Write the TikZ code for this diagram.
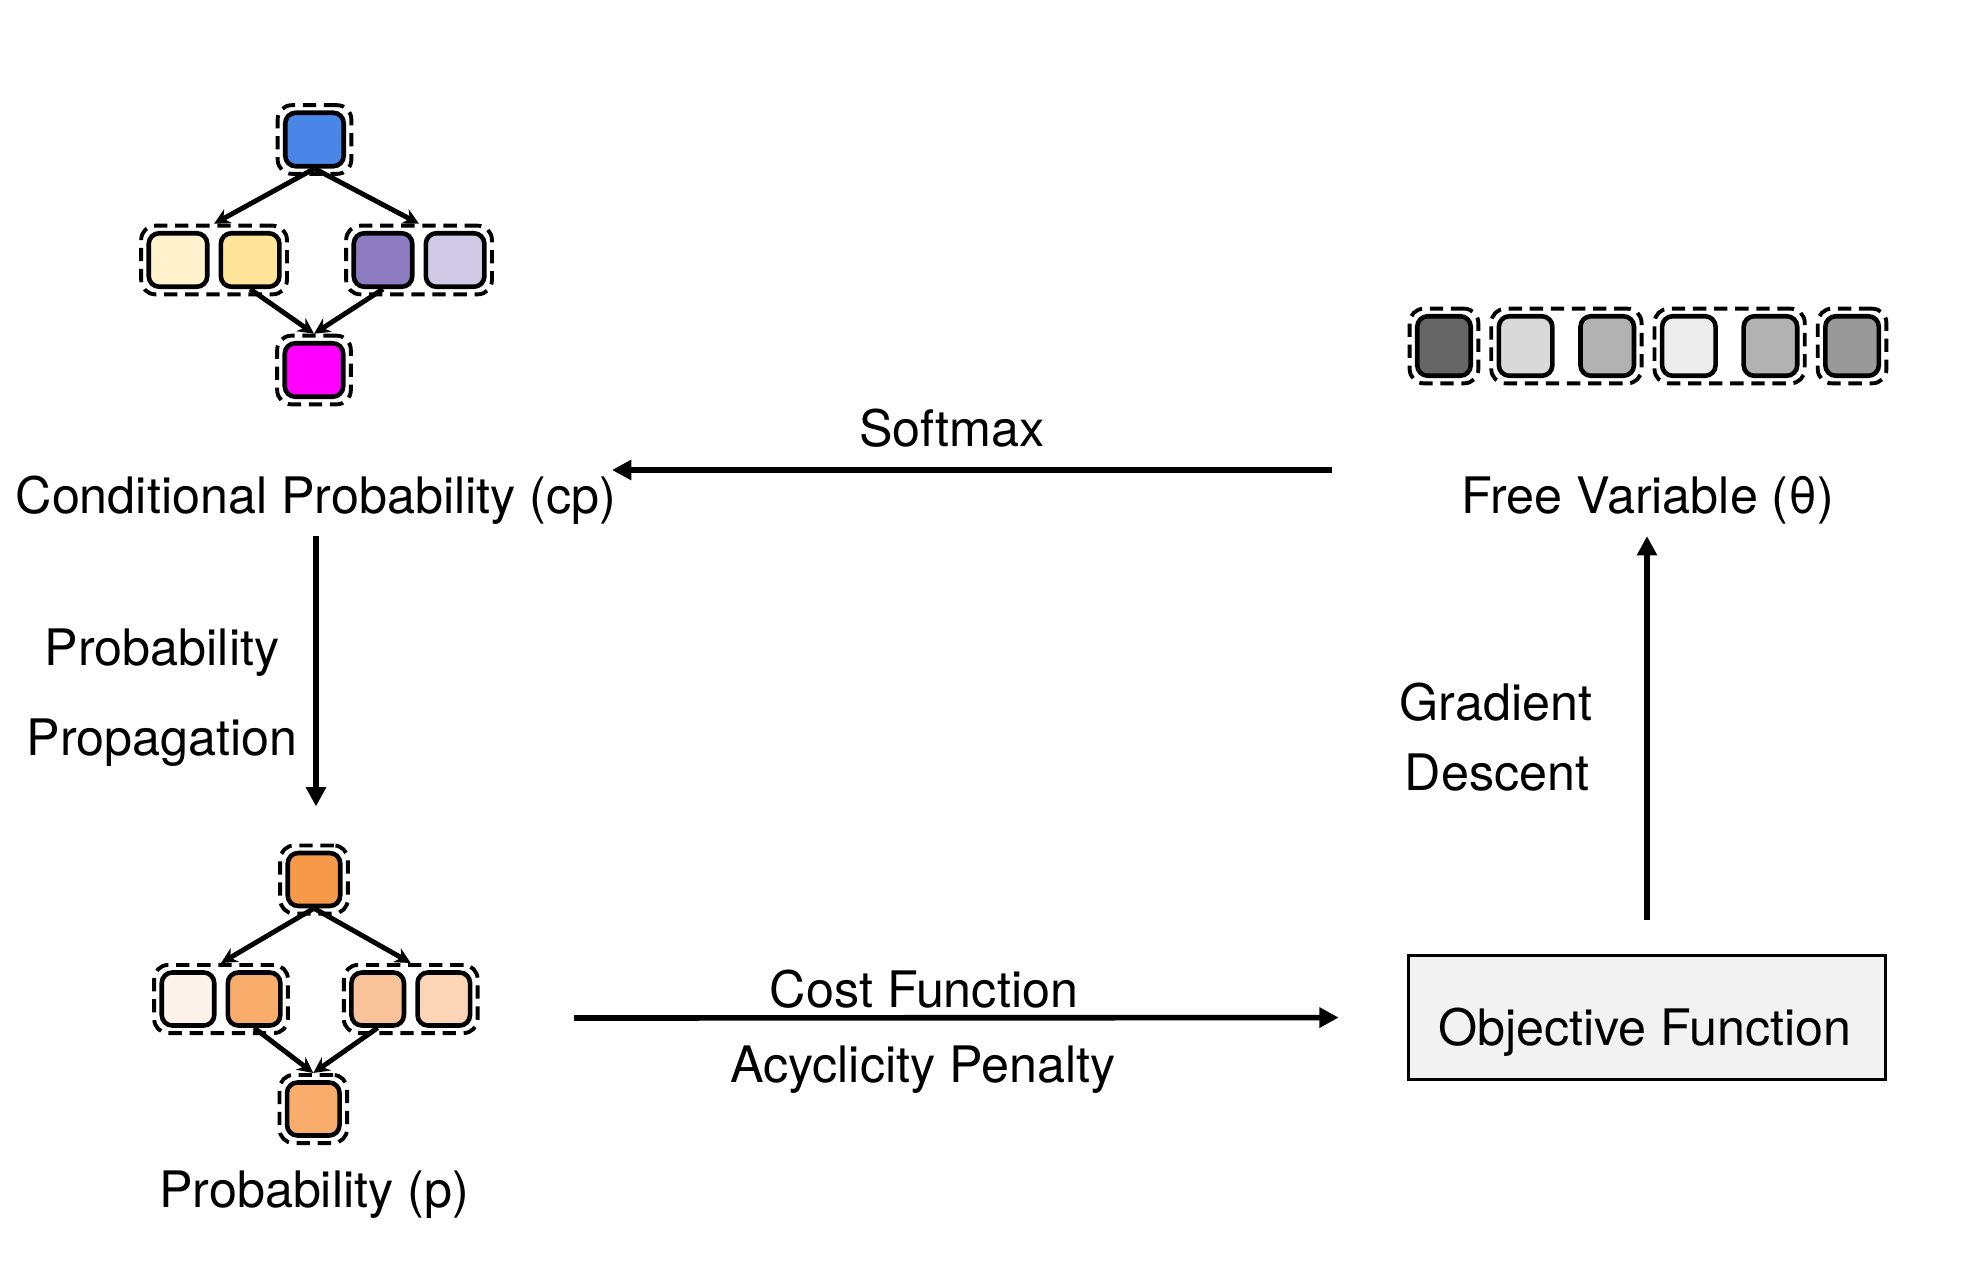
\documentclass[tikz,border=0pt]{standalone}
\usepackage{fontspec}
\setmainfont{TeX Gyre Heros}
\usetikzlibrary{positioning}
\usetikzlibrary{fit}
\usetikzlibrary{arrows.meta}

\definecolor{cpblue}{HTML}{4A86E8}
\definecolor{cpcream}{HTML}{FFF2CC}
\definecolor{cpyellow}{HTML}{FFE599}
\definecolor{cppurple}{HTML}{8E7CC3}
\definecolor{cplilac}{HTML}{D0CAE6}
\definecolor{cpmagenta}{HTML}{FF00FF}
\definecolor{pdeep}{HTML}{F69A4A}
\definecolor{pwhite}{HTML}{FDF3EA}
\definecolor{pmid}{HTML}{F8AD6D}
\definecolor{plight}{HTML}{F9C39A}
\definecolor{ppale}{HTML}{FBD5B6}
\definecolor{objgray}{HTML}{F2F2F2}

\begin{document}
\begin{tikzpicture}[x=0.01cm, y=-0.01cm, node distance=0.09cm,
  cell/.style={draw, line width=1.3pt, rounded corners=3pt, inner sep=0pt, minimum width=0.585cm, minimum height=0.535cm},
  pcell/.style={cell, minimum width=0.525cm, minimum height=0.53cm},
  fcell/.style={cell, minimum width=0.535cm, minimum height=0.595cm},
  grp/.style={draw, dash pattern=on 3.8pt off 2.2pt, line width=1.1pt, rounded corners=4pt, inner sep=1.5pt},
  flow/.style={-{Stealth[length=4.5pt,width=4.5pt]}, line width=1.4pt},
  main/.style={-{Triangle[length=5.5pt,width=5.5pt]}, line width=1.6pt},
  lbl/.style={font=\fontsize{14.3}{17}\selectfont, anchor=base}]
  \path[use as bounding box] (0,0) rectangle (1962,1266);

  \node[cell, fill=cpblue] (cpA) at (314.5,139.5) {};
  \node[cell, fill=cpcream] (cpB1) at (178,260) {};
  \node[cell, fill=cpyellow] (cpB2) [right=of cpB1] {};
  \node[cell, fill=cppurple] (cpC1) at (383,260) {};
  \node[cell, fill=cplilac] (cpC2) [right=of cpC1] {};
  \node[cell, fill=cpmagenta] (cpD) at (314,370) {};
  \node[grp, fit=(cpA)] (cpAg) {};
  \node[grp, fit=(cpB1)(cpB2)] (cpBg) {};
  \node[grp, fit=(cpC1)(cpC2)] (cpCg) {};
  \node[grp, fit=(cpD)] (cpDg) {};

  \path[flow]
  (cpA.south) edge (cpBg.north)
  (cpA.south) edge (cpCg.north)
  (cpB2.south) edge (cpDg.north)
  (cpC1.south) edge (cpDg.north);

  \node[pcell, fill=pdeep] (pA) at (314,879.5) {};
  \node[pcell, fill=pwhite] (pB1) at (188,999) {};
  \node[pcell, fill=pmid] (pB2) [right=of pB1] {};
  \node[pcell, fill=plight] (pC1) at (377.7,999) {};
  \node[pcell, fill=ppale] (pC2) [right=of pC1] {};
  \node[pcell, fill=pmid] (pD) at (313.3,1109) {};
  \node[grp, fit=(pA)] (pAg) {};
  \node[grp, fit=(pB1)(pB2)] (pBg) {};
  \node[grp, fit=(pC1)(pC2)] (pCg) {};
  \node[grp, fit=(pD)] (pDg) {};

  \path[flow]
  (pA.south) edge (pBg.north)
  (pA.south) edge (pCg.north)
  (pB2.south) edge (pDg.north)
  (pC1.south) edge (pDg.north);

  \node[fcell, fill=black!60] (fv1) at (1444,346) {};
  \node[fcell, fill=black!15] (fv2) [right=0.235cm of fv1] {};
  \node[fcell, fill=black!30] (fv3) [right=0.235cm of fv2] {};
  \node[fcell, fill=black!7] (fv4) [right=0.235cm of fv3] {};
  \node[fcell, fill=black!30] (fv5) [right=0.235cm of fv4] {};
  \node[fcell, fill=black!40] (fv6) [right=0.235cm of fv5] {};
  \node[grp, fit=(fv1)] (fvg1) {};
  \node[grp, fit=(fv2)(fv3)] (fvg2) {};
  \node[grp, fit=(fv4)(fv5)] (fvg3) {};
  \node[grp, fit=(fv6)] (fvg4) {};

  \node[lbl] (cpLabel) at (316,513) {Conditional Probability (cp)};
  \node[lbl] (pLabel) at (314,1207) {Probability (p)};
  \node[lbl] (fvLabel) at (1648,513) {Free Variable (θ)};
  \node[lbl] (smLabel) at (952,446) {Softmax};
  \node[lbl] (ppLabel) at (162,665) {Probability};
  \node[lbl] (ppLabel2) at (162,755) {Propagation};
  \node[lbl] (gdLabel) at (1496,720) {Gradient};
  \node[lbl] (gdLabel2) at (1497,790) {Descent};
  \node[lbl] (cfLabel) at (924,1007) {Cost Function};
  \node[lbl] (apLabel) at (923,1082) {Acyclicity Penalty};
  \node[draw, fill=objgray, line width=0.9pt, minimum width=4.77cm, minimum height=1.24cm] (obj) at (1647,1017.5) {};
  \node[lbl] (objLabel) at (1645,1045) {Objective Function};

  \coordinate (smStart) at (1332,470);
  \coordinate (smEnd) at (612,470);
  \coordinate (cfStart) at (574,1018);

  \draw[main] (smStart) -- (smEnd);
  \draw[main, shorten >=0.37cm] (cpLabel.south) -- (cpLabel.south |- pAg.north);
  \draw[main, shorten >=0.68cm] (cfStart) -- (obj.west);
  \draw[main, shorten <=0.34cm] (obj.north) -- (obj.north |- fvLabel.south);
\end{tikzpicture}
\end{document}
